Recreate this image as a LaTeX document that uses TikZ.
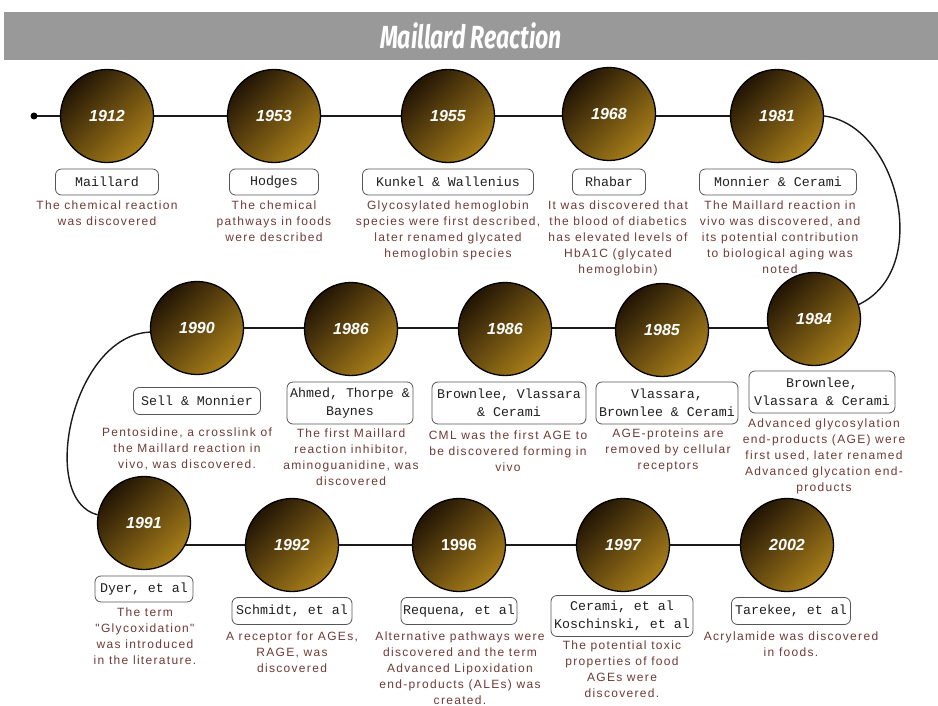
\documentclass[tikz,border=0pt]{standalone}
\usepackage{fontspec}
\usepackage{graphicx}
\usetikzlibrary{backgrounds}
\newfontfamily\descfont{Liberation Sans}[LetterSpace=11]
\newfontfamily\namefont{Liberation Mono}
\newfontfamily\yearfont{Liberation Sans}
\newfontfamily\titlefont{Fira Sans}
\definecolor{cdark}{HTML}{221505}
\definecolor{cgold}{HTML}{A87E1A}
\definecolor{desccol}{HTML}{6E3A35}
\definecolor{namegray}{HTML}{1F1F1F}
\definecolor{boxgray}{HTML}{555555}
\definecolor{barcol}{HTML}{999999}
\definecolor{linecol}{HTML}{1A1A1A}
\begin{document}
\begin{tikzpicture}[x=1pt,y=-1pt,
  yr/.style={circle,minimum size=93pt,inner sep=0pt,draw=black,line width=1.3pt,
    top color=cdark,bottom color=cgold,shading angle=45,text=white,
    font=\yearfont\fontsize{16}{18}\selectfont\bfseries\itshape},
  yrup/.style={yr,font=\yearfont\fontsize{16}{18}\selectfont\bfseries},
  nm/.style={draw=boxgray,line width=0.8pt,rounded corners=6pt,text=namegray,align=center,
    inner xsep=2pt,inner ysep=0pt,minimum height=26pt,
    font=\namefont\fontsize{13.3}{18}\selectfont},
  nm2/.style={nm,minimum height=42pt},
  ds/.style={anchor=north,inner sep=0pt,align=center,text=desccol,
    font=\descfont\fontsize{12}{16}\selectfont},
  conn/.style={draw=linecol,line width=1.4pt}]
\useasboundingbox (0,0) rectangle (938,706);
% title
\node[fill=barcol,minimum width=934pt,minimum height=48pt,inner sep=0pt,text=white] (title) at (471,36)
  {\titlefont\fontsize{32}{36}\selectfont\bfseries\itshape\scalebox{0.72}[1]{Maillard Reaction}};
% start dot
\node[circle,fill=black,inner sep=0pt,minimum size=7pt] (dot) at (34,116) {};
% row 1
\node[yr] (c1912) at (107,116) {1912};
\node[yr] (c1953) at (274,116) {1953};
\node[yr] (c1955) at (448,116) {1955};
\node[yr] (c1968) at (609,114) {1968};
\node[yr] (c1981) at (777,116) {1981};
\node[nm,minimum width=103pt] (b1912) at (107,182) {Maillard};
\node[nm,minimum width=89pt] (b1953) at (274,182) {Hodges};
\node[nm,minimum width=171pt] (b1955) at (448,182) {Kunkel \& Wallenius};
\node[nm,minimum width=73pt] (b1968) at (609,182) {Rhabar};
\node[nm,minimum width=157pt] (b1981) at (778,182) {Monnier \& Cerami};
\node[ds] (d1912) at (107,201) {The chemical reaction\\was discovered};
\node[ds] (d1953) at (274,201) {The chemical\\pathways in foods\\were described};
\node[ds] (d1955) at (448,201) {Glycosylated hemoglobin\\species were first described,\\later renamed glycated\\hemoglobin species};
\node[ds] (d1968) at (618,201) {It was discovered that\\the blood of diabetics\\has elevated levels of\\HbA1C (glycated\\hemoglobin)};
\node[ds] (d1981) at (780,201) {The Maillard reaction in\\vivo was discovered, and\\its potential contribution\\to biological aging was\\noted};
% row 2
\node[yr] (c1990) at (197,328) {1990};
\node[yr] (c1986a) at (351,329) {1986};
\node[yr] (c1986b) at (505,329) {1986};
\node[yr] (c1985) at (662,330) {1985};
\node[yr] (c1984) at (814,319) {1984};
\node[nm,minimum width=127pt,minimum height=27pt] (b1990) at (197,401) {Sell \& Monnier};
\node[nm2,minimum width=126pt] (b1986a) at (350,403) {Ahmed, Thorpe \&\\Baynes};
\node[nm2,minimum width=154pt] (b1986b) at (509,403) {Brownlee, Vlassara\\\& Cerami};
\node[nm2,minimum width=142pt] (b1985) at (667,403) {Vlassara,\\Brownlee \& Cerami};
\node[nm2,minimum width=146pt] (b1984) at (822,392) {Brownlee,\\Vlassara \& Cerami};
\node[ds] (d1990) at (187,428) {Pentosidine, a crosslink of\\the Maillard reaction in\\vivo, was discovered.};
\node[ds] (d1986a) at (351,429) {The first Maillard\\reaction inhibitor,\\aminoguanidine, was\\discovered};
\node[ds] (d1986b) at (508,431) {CML was the first AGE to\\be discovered forming in\\vivo};
\node[ds] (d1985) at (668,429) {AGE-proteins are\\removed by cellular\\receptors};
\node[ds] (d1984) at (824,419) {Advanced glycosylation\\end-products (AGE) were\\first used, later renamed\\Advanced glycation end-\\products};
% row 3
\node[yr] (c1991) at (144,523) {1991};
\node[yr] (c1992) at (292,545) {1992};
\node[yrup] (c1996) at (459,545) {1996};
\node[yr] (c1997) at (623,545) {1997};
\node[yr] (c2002) at (787,545) {2002};
\node[nm,minimum width=98pt] (b1991) at (144,589) {Dyer, et al};
\node[nm,minimum width=120pt,minimum height=27pt] (b1992) at (292,611) {Schmidt, et al};
\node[nm,minimum width=116pt,minimum height=27pt] (b1996) at (459,611) {Requena, et al};
\node[nm2,minimum width=142pt,minimum height=41pt] (b1997) at (622,616) {Cerami, et al\\Koschinski, et al};
\node[nm,minimum width=119pt,minimum height=27pt] (b2002) at (791,611) {Tarekee, et al};
\node[ds] (d1991) at (145,608) {The term\\"Glycoxidation"\\was introduced\\in the literature.};
\node[ds] (d1992) at (292,632) {A receptor for AGEs,\\RAGE, was\\discovered};
\node[ds] (d1996) at (460,632) {Alternative pathways were\\discovered and the term\\Advanced Lipoxidation\\end-products (ALEs) was\\created.};
\node[ds] (d1997) at (622,641) {The potential toxic\\properties of food\\AGEs were\\discovered.};
\node[ds] (d2002) at (791,632) {Acrylamide was discovered\\in foods.};
% connectors
\begin{scope}[on background layer]
\draw[conn] (dot.center) -- (c1981.center);
\draw[conn] (c1990.center) -- (c1990.center -| c1984.center);
\draw[conn] (c1991.center |- c1992.center) -- (c2002.center);
\draw[conn] (c1981.east) .. controls +(74,9) and +(74,-35) .. (c1984.18);
\draw[conn] (c1990.185) .. controls +(-78,3) and +(-60,-15) .. (c1991.170);
\end{scope}
\end{tikzpicture}
\end{document}
